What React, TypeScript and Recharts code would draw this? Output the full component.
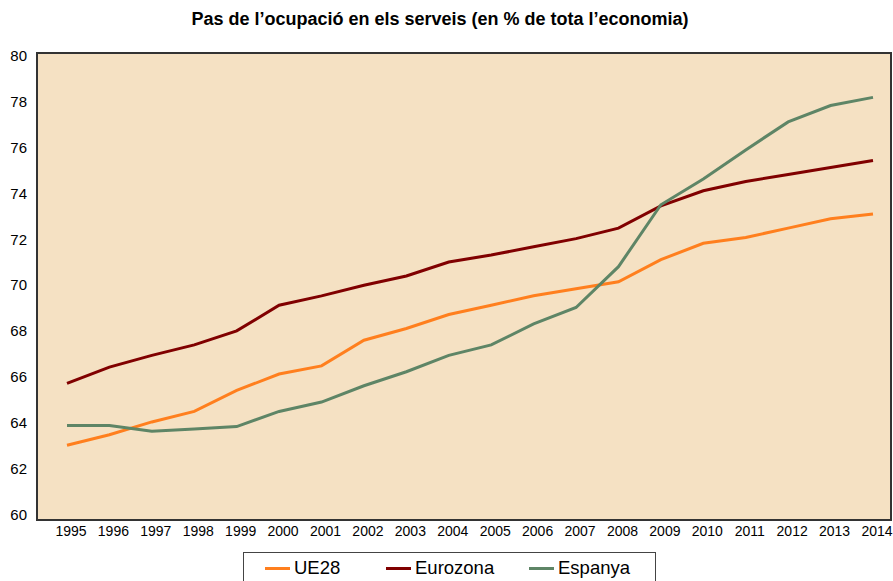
import { LineChart, Line, XAxis, YAxis } from 'recharts';

const years = [
  '1995', '1996', '1997', '1998', '1999', '2000', '2001', '2002', '2003', '2004',
  '2005', '2006', '2007', '2008', '2009', '2010', '2011', '2012', '2013', '2014',
];

const ue28 = [
  63.2, 63.65, 64.2, 64.65, 65.55, 66.25, 66.6, 67.7, 68.2, 68.8,
  69.2, 69.6, 69.9, 70.2, 71.15, 71.85, 72.1, 72.5, 72.9, 73.1,
];

const eurozona = [
  65.85, 66.55, 67.05, 67.5, 68.1, 69.2, 69.6, 70.05, 70.45, 71.05,
  71.35, 71.7, 72.05, 72.5, 73.45, 74.1, 74.5, 74.8, 75.1, 75.4,
];

const espanya = [
  64.05, 64.05, 63.8, 63.9, 64.0, 64.65, 65.05, 65.75, 66.35, 67.05,
  67.5, 68.4, 69.1, 70.85, 73.5, 74.6, 75.85, 77.05, 77.75, 78.1,
];

const yTicks = [60, 62, 64, 66, 68, 70, 72, 74, 76, 78, 80];

const series = [
  { key: 'UE28', color: '#ff7f1e' },
  { key: 'Eurozona', color: '#800000' },
  { key: 'Espanya', color: '#5e8566' },
];

const data = years.map((y, i) => ({
  year: y,
  UE28: ue28[i],
  Eurozona: eurozona[i],
  Espanya: espanya[i],
}));

const font = '"Liberation Sans", Arial, sans-serif';

// the original's value labels sit a little tighter than the axis itself
function YTick(props: any) {
  const { x, y, payload } = props;
  const shift = 2.6 - 0.4 * (80 - payload.value);
  return (
    <text x={x} y={y + shift} dy="0.355em" textAnchor="end" fill="#000" fontSize={15} fontFamily={font}>
      {payload.value}
    </text>
  );
}

function LegendBox() {
  const pos = [21, 142, 285];
  return (
    <div
      style={{
        position: 'absolute',
        left: 243,
        top: 552,
        width: 413,
        height: 40,
        border: '1.5px solid #444',
        boxSizing: 'border-box',
        fontFamily: font,
        fontSize: 18.5,
        color: '#000',
      }}
    >
      {series.map((s, i) => (
        <div
          key={s.key}
          style={{ position: 'absolute', left: pos[i], top: 4, display: 'flex', alignItems: 'center' }}
        >
          <span style={{ display: 'inline-block', width: 25, height: 3, background: s.color, marginRight: 4 }} />
          <span>{s.key}</span>
        </div>
      ))}
    </div>
  );
}

export default function App() {
  return (
    <div style={{ position: 'absolute', left: 0, top: 0, width: 893, height: 581, background: '#fff', overflow: 'hidden' }}>
      <div
        style={{
          position: 'absolute',
          top: 9,
          left: 0,
          width: 880,
          textAlign: 'center',
          fontFamily: font,
          fontWeight: 'bold',
          fontSize: 18,
          color: '#000',
        }}
      >
        Pas de l’ocupació en els serveis (en % de tota l’economia)
      </div>
      <LineChart width={893} height={581} data={data} margin={{ top: 53, right: 1, bottom: 0, left: 0 }}>
        <rect x={37} y={53} width={854} height={467} fill="#f5e1c3" stroke="#333" strokeWidth={2} />
        <XAxis
          dataKey="year"
          padding={{ left: 30, right: 19 }}
          tickLine={false}
          tickSize={0}
          tickMargin={6}
          axisLine={{ stroke: '#333', strokeWidth: 2 }}
          tick={{ fill: '#000', fontSize: 14, fontFamily: font, dx: 4 }}
          interval={0}
          height={61}
        />
        <YAxis
          domain={[60, 80]}
          ticks={yTicks}
          tickLine={false}
          tickSize={0}
          tickMargin={10}
          axisLine={{ stroke: '#333', strokeWidth: 2 }}
          tick={<YTick />}
          width={37}
          interval={0}
        />
        {series.map((s) => (
          <Line
            key={s.key}
            dataKey={s.key}
            stroke={s.color}
            strokeWidth={3}
            dot={false}
            type="linear"
            isAnimationActive={false}
          />
        ))}
      </LineChart>
      <LegendBox />
    </div>
  );
}
